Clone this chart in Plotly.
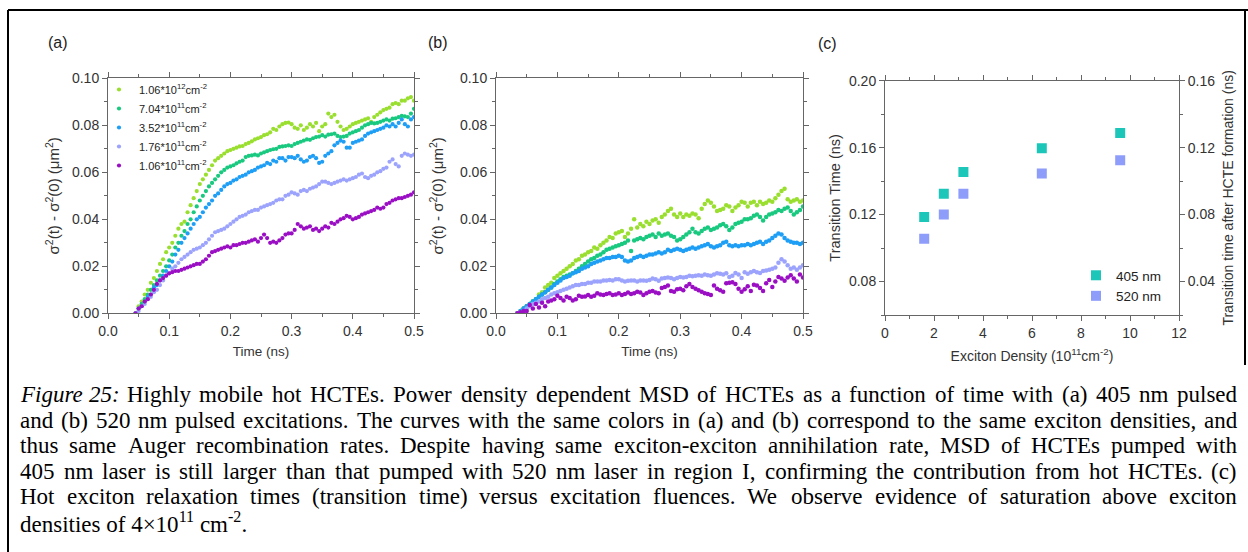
import plotly.graph_objects as go

W_PX, H_PX = 1248, 552
SANS = "Arial, Liberation Sans, sans-serif"
SERIF = "Times New Roman, Liberation Serif, serif"

# ---------------- data ----------------
T_STEP = 0.005
A_T0 = 0.045
B_T0 = 0.035

series_names = [
    "1.06*10<sup>12</sup>cm<sup>-2</sup>",
    "7.04*10<sup>11</sup>cm<sup>-2</sup>",
    "3.52*10<sup>11</sup>cm<sup>-2</sup>",
    "1.76*10<sup>11</sup>cm<sup>-2</sup>",
    "1.06*10<sup>11</sup>cm<sup>-2</sup>",
]
series_colors = ["#9ADF30", "#19C97F", "#1E9EF5", "#9CA3FC", "#9B0FC4"]

a_lime = [0.000, 0.003, 0.005, 0.008, 0.010, 0.013, 0.015, 0.018, 0.021, 0.023,
          0.026, 0.028, 0.030, 0.033, 0.036, 0.038, 0.039, 0.043, 0.046, 0.049,
          0.052, 0.055, 0.057, 0.059, 0.061, 0.063, 0.065, 0.066, 0.067, 0.068,
          0.069, 0.0695, 0.070, 0.0705, 0.071, 0.0712, 0.072, 0.0725, 0.0732, 0.074,
          0.0745, 0.075, 0.0758, 0.0762, 0.077, 0.0785, 0.078, 0.0795, 0.0805, 0.081,
          0.0812, 0.0805, 0.079, 0.0785, 0.080, 0.078, 0.079, 0.0805, 0.0795, 0.081,
          0.0775, 0.0795, 0.0805, 0.085, 0.0835, 0.0845, 0.0815, 0.0795, 0.078, 0.0785,
          0.0795, 0.0805, 0.081, 0.0815, 0.082, 0.0825, 0.083, 0.0815, 0.0835, 0.0845,
          0.0855, 0.0865, 0.087, 0.0875, 0.089, 0.0895, 0.089, 0.0905, 0.0905, 0.0915,
          0.092, 0.0905]
a_green = [0.000, 0.002, 0.004, 0.006, 0.008, 0.010, 0.012, 0.014, 0.016, 0.018,
           0.020, 0.0225, 0.025, 0.028, 0.030, 0.033, 0.035, 0.038, 0.040, 0.043,
           0.0455, 0.048, 0.050, 0.052, 0.054, 0.0555, 0.057, 0.0585, 0.060, 0.061,
           0.062, 0.0625, 0.063, 0.0638, 0.0645, 0.065, 0.0665, 0.067, 0.0672, 0.0675,
           0.0672, 0.068, 0.0685, 0.069, 0.0695, 0.0698, 0.070, 0.0708, 0.071, 0.0712,
           0.0715, 0.0712, 0.072, 0.0725, 0.073, 0.0735, 0.074, 0.0738, 0.0745, 0.075,
           0.0752, 0.0758, 0.0752, 0.076, 0.0762, 0.0765, 0.0755, 0.075, 0.0752, 0.0755,
           0.0765, 0.077, 0.0775, 0.078, 0.079, 0.080, 0.0805, 0.081, 0.0808, 0.081,
           0.0815, 0.082, 0.0825, 0.082, 0.0828, 0.083, 0.0835, 0.084, 0.0838, 0.0835,
           0.085, 0.087]
a_blue = [0.000, 0.002, 0.003, 0.005, 0.007, 0.008, 0.011, 0.012, 0.014, 0.016,
          0.018, 0.020, 0.022, 0.025, 0.027, 0.030, 0.032, 0.034, 0.036, 0.038,
          0.040, 0.041, 0.043, 0.045, 0.0465, 0.048, 0.050, 0.051, 0.0525, 0.054,
          0.055, 0.0555, 0.0565, 0.057, 0.058, 0.0585, 0.059, 0.060, 0.0605, 0.061,
          0.062, 0.0625, 0.063, 0.064, 0.0635, 0.065, 0.0645, 0.066, 0.066, 0.065,
          0.0665, 0.0665, 0.066, 0.067, 0.0655, 0.0645, 0.065, 0.0665, 0.067, 0.066,
          0.064, 0.0645, 0.067, 0.068, 0.069, 0.0715, 0.0725, 0.0735, 0.073, 0.0705,
          0.0705, 0.0725, 0.073, 0.0735, 0.074, 0.0755, 0.0765, 0.077, 0.0775, 0.078,
          0.0785, 0.079, 0.080, 0.0795, 0.0805, 0.0795, 0.081, 0.0825, 0.0805, 0.0795,
          0.0825, 0.0835]
a_lpurple = [0.000, 0.001, 0.003, 0.004, 0.006, 0.007, 0.009, 0.010, 0.012, 0.014,
             0.016, 0.017, 0.019, 0.020, 0.0215, 0.023, 0.024, 0.025, 0.026, 0.027,
             0.0275, 0.028, 0.029, 0.030, 0.0315, 0.033, 0.0345, 0.035, 0.0355, 0.036,
             0.037, 0.038, 0.039, 0.040, 0.041, 0.0415, 0.042, 0.043, 0.0435, 0.044,
             0.044, 0.045, 0.0455, 0.046, 0.0465, 0.047, 0.048, 0.0485, 0.0485, 0.050,
             0.0505, 0.0515, 0.051, 0.0505, 0.052, 0.0525, 0.052, 0.053, 0.0535, 0.054,
             0.055, 0.056, 0.056, 0.0555, 0.055, 0.0555, 0.056, 0.0565, 0.057, 0.0565,
             0.057, 0.0575, 0.058, 0.059, 0.0595, 0.058, 0.0575, 0.0585, 0.059, 0.060,
             0.0605, 0.0615, 0.062, 0.0645, 0.0655, 0.0635, 0.0625, 0.067, 0.068, 0.0675,
             0.067, 0.0675]
a_purple = [0.000, 0.002, 0.003, 0.005, 0.006, 0.008, 0.010, 0.0125, 0.014, 0.015,
            0.016, 0.017, 0.0175, 0.018, 0.018, 0.0185, 0.019, 0.0195, 0.020, 0.0205,
            0.021, 0.021, 0.022, 0.023, 0.0245, 0.026, 0.0265, 0.027, 0.0275, 0.028,
            0.0285, 0.028, 0.029, 0.029, 0.0295, 0.030, 0.030, 0.0305, 0.031, 0.0315,
            0.0305, 0.032, 0.0335, 0.032, 0.030, 0.0305, 0.030, 0.031, 0.032, 0.0335,
            0.034, 0.034, 0.0355, 0.038, 0.037, 0.036, 0.0365, 0.037, 0.0355, 0.036,
            0.035, 0.036, 0.037, 0.0365, 0.0385, 0.038, 0.039, 0.040, 0.0405, 0.0415,
            0.041, 0.040, 0.0405, 0.041, 0.042, 0.0425, 0.043, 0.0435, 0.044, 0.045,
            0.0445, 0.045, 0.0465, 0.047, 0.048, 0.0485, 0.049, 0.049, 0.0495, 0.050,
            0.0505, 0.0515]

b_lime = [0.000, 0.001, 0.002, 0.003, 0.004, 0.005, 0.006, 0.008, 0.009, 0.011,
          0.012, 0.013, 0.015, 0.016, 0.017, 0.018, 0.019, 0.020, 0.021, 0.0225,
          0.023, 0.0245, 0.025, 0.026, 0.0265, 0.028, 0.0275, 0.029, 0.030, 0.031,
          0.0325, 0.032, 0.034, 0.0345, 0.035, 0.0325, 0.034, 0.036, 0.040, 0.0365,
          0.038, 0.037, 0.039, 0.038, 0.0395, 0.040, 0.0385, 0.041, 0.042, 0.0435,
          0.0445, 0.042, 0.041, 0.0425, 0.041, 0.042, 0.0415, 0.0425, 0.042, 0.0405,
          0.0445, 0.0465, 0.048, 0.047, 0.0455, 0.0435, 0.044, 0.0445, 0.046, 0.0455,
          0.0435, 0.045, 0.046, 0.0475, 0.047, 0.0455, 0.047, 0.0475, 0.046, 0.0475,
          0.0465, 0.047, 0.048, 0.0475, 0.049, 0.0505, 0.052, 0.053, 0.0485, 0.0475,
          0.048, 0.0485, 0.0475, 0.048]
b_green = [0.000, 0.001, 0.002, 0.003, 0.004, 0.005, 0.006, 0.007, 0.008, 0.009,
           0.010, 0.011, 0.0125, 0.0135, 0.0145, 0.0155, 0.016, 0.0165, 0.017, 0.018,
           0.019, 0.020, 0.021, 0.022, 0.023, 0.0235, 0.0245, 0.025, 0.026, 0.027,
           0.0275, 0.028, 0.0285, 0.029, 0.0295, 0.030, 0.031, 0.0265, 0.031, 0.0315,
           0.032, 0.0315, 0.0325, 0.033, 0.0335, 0.0325, 0.034, 0.033, 0.0335, 0.034,
           0.033, 0.0325, 0.031, 0.0315, 0.0325, 0.0335, 0.0345, 0.036, 0.0345, 0.034,
           0.035, 0.036, 0.0365, 0.0355, 0.036, 0.0365, 0.0375, 0.038, 0.037, 0.0355,
           0.0365, 0.038, 0.0385, 0.039, 0.040, 0.040, 0.0405, 0.0415, 0.042, 0.041,
           0.0395, 0.041, 0.042, 0.0425, 0.043, 0.044, 0.0435, 0.0445, 0.045, 0.0435,
           0.042, 0.043, 0.044, 0.0455]
b_blue = [0.000, 0.001, 0.002, 0.003, 0.004, 0.005, 0.006, 0.007, 0.008, 0.009,
          0.010, 0.011, 0.012, 0.013, 0.014, 0.015, 0.0155, 0.016, 0.017, 0.0175,
          0.018, 0.019, 0.0195, 0.020, 0.021, 0.0215, 0.022, 0.0225, 0.023, 0.0235,
          0.0235, 0.024, 0.024, 0.0245, 0.024, 0.0225, 0.022, 0.0225, 0.0235, 0.024,
          0.0245, 0.024, 0.0245, 0.025, 0.025, 0.0255, 0.026, 0.0255, 0.026, 0.027,
          0.0265, 0.027, 0.0275, 0.027, 0.0265, 0.027, 0.0275, 0.028, 0.0275, 0.028,
          0.0285, 0.029, 0.0295, 0.0285, 0.028, 0.0285, 0.029, 0.030, 0.0305, 0.029,
          0.0285, 0.029, 0.0285, 0.029, 0.029, 0.0295, 0.029, 0.0295, 0.030, 0.0305,
          0.0295, 0.0305, 0.031, 0.032, 0.033, 0.034, 0.0335, 0.032, 0.031, 0.0305,
          0.030, 0.030, 0.0295, 0.030]
b_lpurple = [0.000, 0.0005, 0.001, 0.002, 0.003, 0.004, 0.0045, 0.005, 0.006, 0.0065,
             0.007, 0.008, 0.0085, 0.009, 0.0095, 0.010, 0.0105, 0.011, 0.0115, 0.012,
             0.012, 0.0125, 0.0125, 0.013, 0.013, 0.0135, 0.0135, 0.0135, 0.014, 0.014,
             0.0142, 0.014, 0.0145, 0.0145, 0.014, 0.0135, 0.0138, 0.014, 0.014, 0.0135,
             0.014, 0.014, 0.0138, 0.0142, 0.0148, 0.0145, 0.0138, 0.0148, 0.015, 0.0152,
             0.015, 0.0145, 0.015, 0.0155, 0.0152, 0.0155, 0.016, 0.0158, 0.016, 0.0162,
             0.016, 0.0165, 0.0162, 0.016, 0.0165, 0.017, 0.0168, 0.0165, 0.017, 0.0155,
             0.016, 0.0172, 0.0165, 0.015, 0.0175, 0.0168, 0.0175, 0.018, 0.0175, 0.0172,
             0.018, 0.0182, 0.0185, 0.019, 0.0195, 0.0215, 0.023, 0.022, 0.0205, 0.019,
             0.0195, 0.0185, 0.0195, 0.0205]
b_purple = [0.000, 0.0005, 0.001, 0.001, 0.0035, 0.002, 0.004, 0.0025, 0.0045, 0.003,
            0.005, 0.0055, 0.006, 0.0075, 0.0065, 0.0055, 0.007, 0.0065, 0.0055, 0.006,
            0.0075, 0.007, 0.0072, 0.0078, 0.007, 0.0075, 0.0085, 0.008, 0.0078, 0.0082,
            0.0085, 0.0078, 0.008, 0.0085, 0.0078, 0.0082, 0.0088, 0.0082, 0.0085, 0.0092,
            0.0088, 0.0078, 0.0085, 0.0092, 0.0095, 0.0088, 0.0085, 0.0108, 0.0112, 0.0118,
            0.0095, 0.0092, 0.0102, 0.0105, 0.0098, 0.0115, 0.0125, 0.0112, 0.0105, 0.0098,
            0.0092, 0.0085, 0.0082, 0.0078, 0.0118, 0.0105, 0.0098, 0.0092, 0.0128, 0.013,
            0.0132, 0.0125, 0.0105, 0.0092, 0.0102, 0.0115, 0.0095, 0.0122, 0.0118, 0.0108,
            0.0095, 0.0128, 0.0142, 0.0112, 0.0135, 0.0155, 0.0148, 0.0138, 0.0152, 0.0162,
            0.0148, 0.0135, 0.0165, 0.0152]

density_c = [1.6, 2.4, 3.2, 6.4, 9.6]
tt_405 = [0.1186, 0.1325, 0.1455, 0.1596, 0.1687]
tt_520 = [0.1055, 0.1200, 0.1325, 0.1445, 0.1525]
c_names = ["405 nm", "520 nm"]
c_colors = ["#1CC6B9", "#8E9CFA"]
# offset between the left (transition time) and right (time after HCTE formation) axes
hcte_offset = 0.04

caption_lines = [
    "<i>Figure</i> <i>25:</i> Highly mobile hot HCTEs. Power density dependent MSD of HCTEs as a function of time with (a) 405 nm pulsed",
    "and (b) 520 nm pulsed excitations. The curves with the same colors in (a) and (b) correspond to the same exciton densities, and",
    "thus same Auger recombination rates. Despite having same exciton-exciton annihilation rate, MSD of HCTEs pumped with",
    "405 nm laser is still larger than that pumped with 520 nm laser in region I, confirming the contribution from hot HCTEs. (c)",
    "Hot exciton relaxation times (transition time) versus excitation fluences. We observe evidence of saturation above exciton",
    "densities of 4\u00d710<sup>11</sup> cm<sup>-2</sup>.",
]

# ---------------- helpers ----------------
def px(x):
    return x / W_PX


def py(y):
    return 1 - y / H_PX


def tgrid(t0, n):
    return [round(t0 + T_STEP * i, 3) for i in range(n)]


fig = go.Figure()

a_series = [a_lime, a_green, a_blue, a_lpurple, a_purple]
b_series = [b_lime, b_green, b_blue, b_lpurple, b_purple]
for name, col, vals in zip(series_names, series_colors, a_series):
    fig.add_trace(go.Scatter(x=tgrid(A_T0, len(vals)), y=vals, mode="markers", name=name,
                             marker=dict(color=col, size=4.2), xaxis="x", yaxis="y",
                             legend="legend"))
for name, col, vals in zip(series_names, series_colors, b_series):
    fig.add_trace(go.Scatter(x=tgrid(B_T0, len(vals)), y=vals, mode="markers", name=name,
                             marker=dict(color=col, size=4.5), xaxis="x2", yaxis="y2",
                             showlegend=False))
for name, col, vals in zip(c_names, c_colors, [tt_405, tt_520]):
    fig.add_trace(go.Scatter(x=density_c, y=vals, mode="markers", name=name,
                             marker=dict(color=col, size=10, symbol="square"),
                             xaxis="x3", yaxis="y3", legend="legend2"))
# same 405 nm points on the right axis (invisible) so that the right axis is drawn
fig.add_trace(go.Scatter(x=density_c, y=[v - hcte_offset for v in tt_405], mode="markers",
                         marker=dict(color="rgba(0,0,0,0)", size=1), hoverinfo="skip",
                         showlegend=False, xaxis="x3", yaxis="y4"))

AX_COL = "#666666"
TXT_COL = "#333333"


def axis(**kw):
    d = dict(showline=True, linecolor=AX_COL, linewidth=1, mirror="ticks",
             ticks="outside", ticklen=5, tickwidth=1, tickcolor=AX_COL,
             showgrid=False, zeroline=False, automargin=False,
             tickfont=dict(family=SANS, size=14, color=TXT_COL),
             title_font=dict(family=SANS, size=13.5, color=TXT_COL),
             minor=dict(ticks="outside", ticklen=3, tickcolor=AX_COL, showgrid=False))
    d.update(kw)
    return d


ytitle_ab = "\u03c3<sup>2</sup>(t) - \u03c3<sup>2</sup>(0) (\u03bcm<sup>2</sup>)"
y_dom = [py(313.3), py(78.3)]
YT_FONT = dict(family=SANS, size=15, color=TXT_COL)

fig.update_layout(
    width=W_PX, height=H_PX, margin=dict(l=0, r=0, t=0, b=0, autoexpand=False),
    paper_bgcolor="white", plot_bgcolor="white",
    xaxis=axis(domain=[px(108), px(414)], range=[0, 0.5], dtick=0.1, tickformat=".1f",
               minor_dtick=0.05, anchor="y",
               title=dict(text="Time (ns)", standoff=8)),
    yaxis=axis(domain=y_dom, range=[0, 0.1], dtick=0.02, tickformat=".2f",
               minor_dtick=0.01, anchor="x",
               title=dict(text=ytitle_ab, standoff=8, font=YT_FONT)),
    xaxis2=axis(domain=[px(496), px(803)], range=[0, 0.5], dtick=0.1, tickformat=".1f",
                minor_dtick=0.05, anchor="y2",
                title=dict(text="Time (ns)", standoff=8)),
    yaxis2=axis(domain=y_dom, range=[0, 0.1], dtick=0.02, tickformat=".2f",
                minor_dtick=0.01, anchor="x2",
                title=dict(text=ytitle_ab, standoff=12, font=YT_FONT)),
    xaxis3=axis(domain=[px(885), px(1179)], range=[0, 12], dtick=2, minor_dtick=1,
                anchor="y3",
                title=dict(text="Exciton Density (10<sup>11</sup>cm<sup>-2</sup>)", standoff=11,
                           font=dict(family=SANS, size=14, color=TXT_COL))),
    yaxis3=axis(domain=[py(315), py(80.7)], range=[0.06, 0.20], tick0=0, dtick=0.04,
                tickformat=".2f", minor_dtick=0.02, anchor="x3", mirror=False,
                title=dict(text="Transition Time (ns)", standoff=4,
                           font=dict(family=SANS, size=14.5, color=TXT_COL))),
    yaxis4=axis(domain=[py(315), py(80.7)], range=[0.06 - hcte_offset, 0.20 - hcte_offset],
                tick0=0, dtick=0.04, tickformat=".2f", minor_dtick=0.02, anchor="x3",
                overlaying="y3", side="right", mirror=False,
                title=dict(text="Transition time after HCTE formation (ns)", standoff=8,
                           font=dict(family=SANS, size=14, color=TXT_COL))),
    legend=dict(x=px(99), y=py(75), xanchor="left", yanchor="top",
                bgcolor="rgba(0,0,0,0)", font=dict(family=SANS, size=11, color="#222"),
                itemwidth=30, tracegroupgap=0),
    legend2=dict(x=px(1076), y=py(260), xanchor="left", yanchor="top",
                 bgcolor="rgba(0,0,0,0)", font=dict(family=SANS, size=13.5, color="#222")),
    showlegend=True,
)

# panel labels
for lbl, x0, y0 in [("(a)", 58, 42), ("(b)", 438, 42), ("(c)", 827, 43)]:
    fig.add_annotation(text=lbl, x=px(x0), y=py(y0), xref="paper", yref="paper",
                       xanchor="center", yanchor="middle", showarrow=False,
                       font=dict(family=SANS, size=16, color="#222"))

# frame lines
for (x0, y0, x1, y1) in [(8, 10, 1248, 10), (8, 10, 8, 552), (1245, 10, 1245, 365)]:
    fig.add_shape(type="line", xref="paper", yref="paper", x0=px(x0), y0=py(y0),
                  x1=px(x1), y1=py(y1), line=dict(color="black", width=2))

# caption (justified, word by word, using Times advance widths)
_TW = {' ': 250, '(': 333, ')': 333, '-': 333, '.': 250, ',': 250, ':': 278, '\u00d7': 564}
for ch in "0123456789":
    _TW[ch] = 500
for ch, w in zip("abcdefghijklmnopqrstuvwxyz",
                 [444, 500, 444, 500, 444, 333, 500, 500, 278, 278, 500, 278, 778, 500, 500,
                  500, 500, 333, 389, 278, 500, 500, 722, 500, 500, 444]):
    _TW[ch] = w
for ch, w in zip("ABCDEFGHIJKLMNOPQRSTUVWXYZ",
                 [722, 667, 667, 722, 611, 556, 722, 722, 333, 389, 722, 611, 889, 722, 722,
                  556, 722, 667, 556, 611, 722, 722, 944, 722, 722, 611]):
    _TW[ch] = w


def strip_tags(s):
    out, inside = "", False
    for ch in s:
        if ch == "<":
            inside = True
        elif ch == ">":
            inside = False
        elif not inside:
            out += ch
    return out


CAP_FS = 23
CAP_L, CAP_R = 20, 1237
cap_y = [394, 420, 445, 471, 496, 522]
for i, line in enumerate(caption_lines):
    yy = py(cap_y[i])
    if i == len(caption_lines) - 1:
        fig.add_annotation(text=line, x=px(CAP_L), y=yy, xref="paper", yref="paper",
                           xanchor="left", yanchor="middle", showarrow=False,
                           borderpad=0, borderwidth=0,
                           font=dict(family=SERIF, size=CAP_FS, color="black"))
        continue
    words = line.split(" ")
    widths = [sum(_TW.get(c, 500) for c in strip_tags(w)) * CAP_FS / 1000 for w in words]
    gap = (CAP_R - CAP_L - sum(widths)) / (len(words) - 1)
    xpos = CAP_L
    for w, wd in zip(words, widths):
        fig.add_annotation(text=w, x=px(xpos), y=yy, xref="paper", yref="paper",
                           xanchor="left", yanchor="middle", showarrow=False,
                           borderpad=0, borderwidth=0,
                           font=dict(family=SERIF, size=CAP_FS, color="black"))
        xpos += wd + gap

fig.write_html("out.html", config={"displayModeBar": False},
               post_script="document.body.style.margin='0';document.body.style.overflow='hidden';")
